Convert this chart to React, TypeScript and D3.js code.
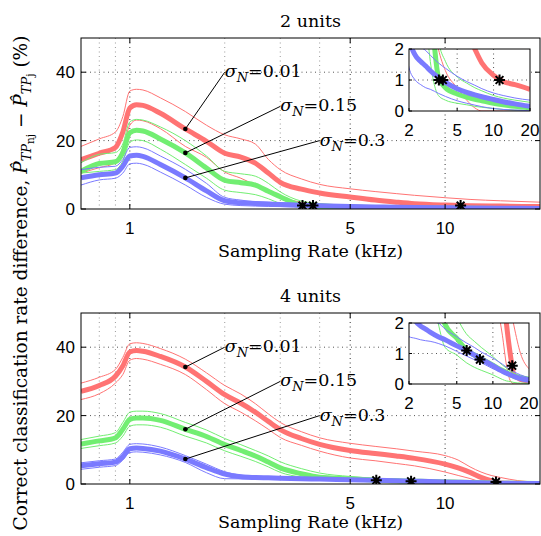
import React from 'react';
import * as d3 from 'd3';

const W = 541;
const H = 536;

// Sampling rates (kHz)
const RATES_2 = [0.7, 0.8, 0.9, 0.95, 1.0, 1.05, 1.1, 1.25, 1.5, 1.75, 2.0, 2.25, 2.5, 2.75, 3.0, 3.5, 4.0, 5.0, 6.0, 7.0, 8.0, 10, 12, 15, 20];
const RATES_4 = [0.7, 0.8, 0.9, 0.95, 1.0, 1.05, 1.1, 1.25, 1.5, 1.75, 2.0, 2.25, 2.5, 2.75, 3.0, 3.5, 4.0, 5.0, 6.0, 7.0, 8.0, 10, 11, 12, 13, 14, 15, 17, 20];

// 2 units
const RED_MEAN_2 = [14.4, 16.3, 18.0, 22.5, 29.5, 30.5, 30.3, 28.0, 23.4, 19.8, 16.3, 15.2, 13.4, 10.5, 7.8, 5.8, 4.7, 3.5, 2.6, 2.0, 1.55, 1.15, 0.95, 0.85, 0.7];
const RED_UP_2 = [18.3, 20.5, 22.5, 27.0, 34.5, 35.0, 34.8, 32.5, 28.5, 24.5, 21.7, 20.5, 19.0, 14.5, 11.5, 8.8, 7.2, 5.9, 5.1, 4.5, 4.0, 3.3, 2.8, 2.4, 2.0];
const RED_LO_2 = [10.5, 12.1, 13.5, 18.0, 24.5, 26.0, 25.8, 23.5, 18.3, 15.1, 10.8, 9.0, 7.0, 5.2, 3.5, 2.0, 1.3, 0.75, 0.35, 0.1, 0, 0, 0, 0, 0];
const GREEN_MEAN_2 = [11.0, 13.3, 13.8, 16.5, 22.3, 23.0, 22.8, 20.5, 16.4, 12.0, 8.4, 7.7, 7.0, 5.2, 3.6, 1.1, 0.75, 0.55, 0.45, 0.38, 0.33, 0.25, 0.2, 0.15, 0.1];
const GREEN_UP_2 = [13.5, 16.0, 16.5, 19.0, 25.5, 26.2, 26.0, 24.0, 20.0, 15.5, 11.0, 10.3, 9.6, 7.5, 5.0, 2.3, 1.6, 1.1, 0.9, 0.75, 0.65, 0.5, 0.42, 0.35, 0.28];
const GREEN_LO_2 = [10.5, 11.0, 11.5, 14.0, 19.5, 20.2, 20.0, 17.5, 13.0, 9.0, 5.5, 4.8, 4.2, 3.0, 1.6, 0.5, 0.35, 0.25, 0.2, 0.15, 0.12, 0.08, 0.05, 0.03, 0.02];
const BLUE_MEAN_2 = [9.1, 10.0, 10.5, 12.5, 15.5, 15.7, 15.4, 13.0, 9.1, 5.3, 2.4, 1.8, 1.6, 1.45, 1.3, 1.08, 0.92, 0.72, 0.6, 0.52, 0.46, 0.37, 0.3, 0.23, 0.15];
const BLUE_UP_2 = [11.5, 12.2, 12.5, 14.5, 18.0, 18.2, 17.9, 15.5, 11.6, 7.5, 3.4, 2.6, 2.1, 1.95, 1.8, 1.55, 1.38, 1.12, 0.95, 0.83, 0.72, 0.58, 0.5, 0.42, 0.35];
const BLUE_LO_2 = [7.0, 8.5, 9.0, 10.5, 13.2, 13.4, 13.1, 10.8, 7.0, 3.4, 1.4, 1.0, 0.85, 0.75, 0.7, 0.57, 0.47, 0.33, 0.25, 0.19, 0.14, 0.08, 0.05, 0.03, 0.01];
const STAR_X_2 = [3.53, 3.81, 11.2];
const STAR_Y_2 = [1.0, 1.0, 1.0];

// 4 units
const RED_MEAN_4 = [27.1, 28.8, 31.5, 34.5, 38.6, 39.0, 38.8, 37.3, 34.2, 30.0, 26.1, 23.6, 21.0, 18.3, 15.9, 13.3, 11.6, 9.8, 8.9, 8.2, 7.5, 5.8, 4.7, 3.4, 1.95, 0.95, 0.3, 0.15, 0.1];
const RED_UP_4 = [29.5, 31.2, 33.5, 37.0, 41.0, 41.3, 41.1, 39.6, 36.5, 32.5, 28.8, 26.3, 23.5, 20.5, 18.0, 15.3, 13.5, 11.9, 11.0, 10.3, 9.6, 8.3, 7.0, 5.0, 3.5, 2.5, 1.9, 1.0, 0.5];
const RED_LO_4 = [24.7, 26.4, 29.5, 32.0, 36.2, 36.7, 36.5, 35.0, 32.0, 27.6, 23.5, 21.0, 18.5, 16.0, 13.6, 11.3, 9.6, 7.6, 6.8, 6.0, 5.3, 3.5, 2.5, 1.6, 0.6, 0.1, 0, 0, 0];
const GREEN_MEAN_4 = [11.7, 12.6, 13.5, 16.0, 18.9, 19.3, 19.3, 18.6, 16.0, 13.9, 11.5, 9.8, 8.2, 6.4, 4.7, 3.0, 1.95, 1.5, 1.12, 0.95, 0.83, 0.62, 0.52, 0.45, 0.38, 0.3, 0.25, 0.2, 0.15];
const GREEN_UP_4 = [13.0, 14.0, 15.0, 18.0, 21.0, 21.3, 21.3, 20.6, 18.0, 15.8, 13.3, 11.5, 9.8, 8.2, 6.5, 4.5, 3.2, 2.2, 1.65, 1.4, 1.2, 0.9, 0.75, 0.62, 0.52, 0.42, 0.35, 0.28, 0.22];
const GREEN_LO_4 = [10.4, 11.2, 12.0, 14.0, 16.9, 17.3, 17.3, 16.6, 14.0, 12.0, 9.7, 8.1, 6.6, 5.0, 3.4, 2.0, 1.2, 0.95, 0.7, 0.55, 0.45, 0.3, 0.22, 0.15, 0.1, 0.08, 0.05, 0.03, 0.02];
const BLUE_MEAN_4 = [5.3, 5.9, 6.4, 8.0, 10.3, 10.5, 10.4, 9.6, 7.3, 4.8, 2.9, 2.1, 1.9, 1.8, 1.7, 1.55, 1.45, 1.25, 1.1, 0.95, 0.82, 0.6, 0.5, 0.42, 0.35, 0.3, 0.25, 0.18, 0.12];
const BLUE_UP_4 = [6.2, 6.8, 7.3, 9.3, 11.6, 11.8, 11.7, 10.8, 8.3, 5.8, 3.6, 2.6, 2.3, 2.15, 2.05, 2.0, 1.8, 1.55, 1.35, 1.2, 1.05, 0.85, 0.75, 0.65, 0.55, 0.47, 0.4, 0.3, 0.2];
const BLUE_LO_4 = [4.3, 4.9, 5.4, 7.0, 9.2, 9.4, 9.3, 8.5, 6.3, 3.3, 1.55, 1.5, 1.45, 1.42, 1.4, 1.33, 1.25, 1.07, 0.92, 0.8, 0.7, 0.5, 0.43, 0.37, 0.31, 0.26, 0.22, 0.15, 0.08];
const STAR_X_4 = [6.05, 7.8, 14.5];
const STAR_Y_4 = [1.1, 0.8, 0.6];

const TITLES = ['2 units', '4 units'];
const Y_TICKS = [0, 20, 40];
const X_TICKS = [1, 5, 10];
const X_MINOR_GRID = [0.8, 0.9, 2, 3, 4];
const INSET_X_TICKS = [2, 5, 10, 20];
const INSET_Y_TICKS = [0, 1, 2];
const INSET_X_GRID = [5, 10];
const SIGMA_LABELS = ['0.01', '0.15', '0.3'];
const LABEL_X = [2, 3, 4];
const LABEL_Y = [40, 30, 20];
const DOT_X = 1.5;

const COLORS = ['#ff7373', '#72ee72', '#7a7aff'];

const SERIF = "'DejaVu Serif', 'Liberation Serif', serif";
const SANS = "'Liberation Sans', Arial, sans-serif";
const SERIF_SIZE = 17.5;

type Series = { mean: number[]; up: number[]; lo: number[] };
type PanelProps = {
  id: string;
  title: string;
  rates: number[];
  series: Series[];
  starX: number[];
  starY: number[];
  top: number;
  bottom: number;
  xlabelY: number;
  inset: { x0: number; x1: number; y0: number; y1: number };
};

const LEFT = 81;
const RIGHT = 540;

function starPath(r: number) {
  const a = r * 0.7071;
  return `M${-r},0L${r},0M0,${-r}L0,${r}M${-a},${-a}L${a},${a}M${-a},${a}L${a},${-a}`;
}

function Panel(p: PanelProps) {
  const x = d3.scaleLog().domain([0.7, 20]).range([LEFT, RIGHT]);
  const y = d3.scaleLinear().domain([0, 50]).range([p.bottom, p.top]);
  const ix = d3.scaleLog().domain([2, 20]).range([p.inset.x0, p.inset.x1]);
  const iy = d3.scaleLinear().domain([0, 2]).range([p.inset.y1, p.inset.y0]);

  const mk = (sx: any, sy: any) =>
    d3
      .line<number>()
      .x((_, i) => sx(p.rates[i]))
      .y((d) => sy(d))
      .curve(d3.curveMonotoneX);
  const mainLine = mk(x, y);
  const insetLine = mk(ix, iy);
  const dotIdx = p.rates.indexOf(DOT_X);
  const star = starPath(5.5);

  const drawSeries = (ln: any, key: string) =>
    p.series.map((s, k) => (
      <g key={key + k}>
        <path d={ln(s.up) || ''} fill="none" stroke={COLORS[k]} strokeWidth={1} />
        <path d={ln(s.lo) || ''} fill="none" stroke={COLORS[k]} strokeWidth={1} />
        <path d={ln(s.mean) || ''} fill="none" stroke={COLORS[k]} strokeWidth={5} strokeLinejoin="round" />
      </g>
    ));

  return (
    <g>
      <defs>
        <clipPath id={`clip-${p.id}`}>
          <rect x={LEFT} y={p.top} width={RIGHT - LEFT} height={p.bottom - p.top} />
        </clipPath>
        <clipPath id={`iclip-${p.id}`}>
          <rect x={p.inset.x0} y={p.inset.y0} width={p.inset.x1 - p.inset.x0} height={p.inset.y1 - p.inset.y0} />
        </clipPath>
      </defs>
      <rect x={LEFT} y={p.top} width={RIGHT - LEFT} height={p.bottom - p.top} fill="#fff" />
      {X_MINOR_GRID.map((v) => (
        <line key={'mg' + v} x1={x(v)} x2={x(v)} y1={p.top} y2={p.bottom} stroke="#999" strokeDasharray="1,3.5" />
      ))}
      {X_TICKS.map((v) => (
        <line key={'xg' + v} x1={x(v)} x2={x(v)} y1={p.top} y2={p.bottom} stroke="#333" strokeDasharray="1,3.5" />
      ))}
      {Y_TICKS.filter((v) => v > 0).map((v) => (
        <line key={'yg' + v} x1={LEFT} x2={RIGHT} y1={y(v)} y2={y(v)} stroke="#555" strokeDasharray="1,3.5" />
      ))}
      <g clipPath={`url(#clip-${p.id})`}>
        {drawSeries(mainLine, 'm')}
        {p.starX.map((sx, i) => (
          <path key={'s' + i} d={star} transform={`translate(${x(sx)},${y(p.starY[i])})`} stroke="#000" strokeWidth={2} fill="none" />
        ))}
      </g>
      {p.series.map((s, k) => {
        const dx = x(DOT_X);
        const dy = y(s.mean[dotIdx]);
        const tx = x(LABEL_X[k]);
        const ty = y(LABEL_Y[k]);
        return (
          <g key={'a' + k}>
            <line x1={dx} y1={dy} x2={tx} y2={ty} stroke="#000" strokeWidth={1} />
            <circle cx={dx} cy={dy} r={2.3} fill="#000" />
            <text x={tx} y={ty + 5} style={{ fontFamily: SERIF, fontSize: SERIF_SIZE }} fill="#000">
              <tspan fontStyle="italic">σ</tspan>
              <tspan fontStyle="italic" style={{ fontSize: 13 }} dy={5}>N</tspan>
              <tspan dy={-5}>{'=' + SIGMA_LABELS[k]}</tspan>
            </text>
          </g>
        );
      })}
      <rect x={LEFT} y={p.top} width={RIGHT - LEFT} height={p.bottom - p.top} fill="none" stroke="#000" strokeWidth={1} />
      {X_TICKS.map((v) => (
        <g key={'xt' + v}>
          <line x1={x(v)} x2={x(v)} y1={p.bottom} y2={p.bottom - 5} stroke="#000" />
          <line x1={x(v)} x2={x(v)} y1={p.top} y2={p.top + 5} stroke="#000" />
          <text x={x(v)} y={p.bottom + 25} textAnchor="middle" style={{ fontFamily: SANS, fontSize: 17 }}>
            {v}
          </text>
        </g>
      ))}
      {Y_TICKS.map((v) => (
        <g key={'yt' + v}>
          <line x1={LEFT} x2={LEFT + 5} y1={y(v)} y2={y(v)} stroke="#000" />
          <line x1={RIGHT} x2={RIGHT - 5} y1={y(v)} y2={y(v)} stroke="#000" />
          <text x={LEFT - 6} y={y(v) + 6} textAnchor="end" style={{ fontFamily: SANS, fontSize: 17 }}>
            {v}
          </text>
        </g>
      ))}
      <text x={(LEFT + RIGHT) / 2} y={p.top - 11} textAnchor="middle" style={{ fontFamily: SERIF, fontSize: SERIF_SIZE }}>
        {p.title}
      </text>
      <text x={(LEFT + RIGHT) / 2} y={p.xlabelY} textAnchor="middle" style={{ fontFamily: SERIF, fontSize: SERIF_SIZE }}>
        Sampling Rate (kHz)
      </text>
      <rect x={p.inset.x0} y={p.inset.y0} width={p.inset.x1 - p.inset.x0} height={p.inset.y1 - p.inset.y0} fill="#fff" />
      {INSET_X_GRID.map((v) => (
        <line key={'ig' + v} x1={ix(v)} x2={ix(v)} y1={p.inset.y0} y2={p.inset.y1} stroke="#555" strokeDasharray="1,3.5" />
      ))}
      <line x1={p.inset.x0} x2={p.inset.x1} y1={iy(1)} y2={iy(1)} stroke="#555" strokeDasharray="1,3.5" />
      <g clipPath={`url(#iclip-${p.id})`}>
        {drawSeries(insetLine, 'i')}
        {p.starX.map((sx, i) => (
          <path key={'is' + i} d={star} transform={`translate(${ix(sx)},${iy(p.starY[i])})`} stroke="#000" strokeWidth={2} fill="none" />
        ))}
      </g>
      <rect x={p.inset.x0} y={p.inset.y0} width={p.inset.x1 - p.inset.x0} height={p.inset.y1 - p.inset.y0} fill="none" stroke="#000" />
      {INSET_X_TICKS.map((v) => (
        <g key={'ixt' + v}>
          <line x1={ix(v)} x2={ix(v)} y1={p.inset.y1} y2={p.inset.y1 - 3} stroke="#000" />
          <text x={ix(v)} y={p.inset.y1 + 25} textAnchor="middle" style={{ fontFamily: SANS, fontSize: 17 }}>
            {v}
          </text>
        </g>
      ))}
      {INSET_Y_TICKS.map((v) => (
        <g key={'iyt' + v}>
          <line x1={p.inset.x0} x2={p.inset.x0 + 3} y1={iy(v)} y2={iy(v)} stroke="#000" />
          <text x={p.inset.x0 - 5} y={iy(v) + 6} textAnchor="end" style={{ fontFamily: SANS, fontSize: 17 }}>
            {v}
          </text>
        </g>
      ))}
    </g>
  );
}

export default function App() {
  const panels: PanelProps[] = [
    {
      id: 'p2',
      title: TITLES[0],
      rates: RATES_2,
      series: [
        { mean: RED_MEAN_2, up: RED_UP_2, lo: RED_LO_2 },
        { mean: GREEN_MEAN_2, up: GREEN_UP_2, lo: GREEN_LO_2 },
        { mean: BLUE_MEAN_2, up: BLUE_UP_2, lo: BLUE_LO_2 },
      ],
      starX: STAR_X_2,
      starY: STAR_Y_2,
      top: 38,
      bottom: 209,
      xlabelY: 257,
      inset: { x0: 409, x1: 530, y0: 49, y1: 111 },
    },
    {
      id: 'p4',
      title: TITLES[1],
      rates: RATES_4,
      series: [
        { mean: RED_MEAN_4, up: RED_UP_4, lo: RED_LO_4 },
        { mean: GREEN_MEAN_4, up: GREEN_UP_4, lo: GREEN_LO_4 },
        { mean: BLUE_MEAN_4, up: BLUE_UP_4, lo: BLUE_LO_4 },
      ],
      starX: STAR_X_4,
      starY: STAR_Y_4,
      top: 313,
      bottom: 484,
      xlabelY: 528,
      inset: { x0: 409, x1: 529, y0: 323, y1: 384 },
    },
  ];
  return (
    <svg width={W} height={H} style={{ position: 'absolute', left: 0, top: 0, background: '#fff' }}>
      <rect width={W} height={H} fill="#fff" />
      {panels.map((p) => (
        <Panel key={p.id} {...p} />
      ))}
      <text transform="translate(27,283) rotate(-90)" textAnchor="middle" style={{ fontFamily: SERIF, fontSize: 18.5 }} fill="#000">
        Correct classification rate difference,{' '}
        <tspan fontStyle="italic">{'P\u0302'}</tspan>
        <tspan fontStyle="italic" style={{ fontSize: 13 }} dy={4}>TP</tspan>
        <tspan style={{ fontSize: 10.5 }} dy={3}>nj</tspan>
        <tspan dy={-7}>{' \u2212 '}</tspan>
        <tspan fontStyle="italic">{'P\u0302'}</tspan>
        <tspan fontStyle="italic" style={{ fontSize: 13 }} dy={4}>TP</tspan>
        <tspan style={{ fontSize: 10.5 }} dy={3}>j</tspan>
        <tspan dy={-7}>{' (%)'}</tspan>
      </text>
    </svg>
  );
}
